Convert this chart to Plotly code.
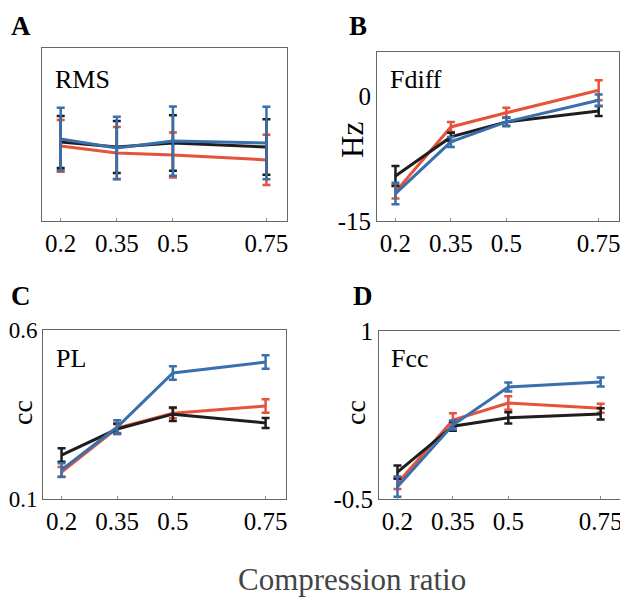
import plotly.graph_objects as go

# page is drawn with an 8px body margin, so the figure is a bit smaller
# and all pixel positions below are in window coordinates
OFF = 8
W, H = 628 - OFF, 598 - OFF

ratios = [0.2, 0.35, 0.5, 0.75]
tick_text = ["0.2", "0.35", "0.5", "0.75"]

# panel A - RMS (no y scale shown)
rms_black = [0.457, 0.428, 0.451, 0.428]
rms_red = [0.434, 0.393, 0.382, 0.353]
rms_blue = [0.474, 0.422, 0.462, 0.451]
rms_black_err = [0.15, 0.15, 0.16, 0.16]
rms_red_err = [0.15, 0.15, 0.13, 0.145]
rms_blue_err = [0.18, 0.18, 0.20, 0.21]

# panel B - Fdiff (Hz)
fd_black = [-9.6, -4.9, -3.1, -1.8]
fd_red = [-11.5, -3.7, -2.0, 0.7]
fd_blue = [-11.7, -5.5, -3.1, -0.5]
fd_black_err = [1.2, 0.5, 0.5, 0.6]
fd_red_err = [0.8, 0.6, 0.6, 1.2]
fd_blue_err = [1.3, 0.6, 0.5, 0.7]

# panel C - PL (cc)
pl_black = [0.23, 0.307, 0.351, 0.325]
pl_red = [0.18, 0.31, 0.354, 0.375]
pl_blue = [0.186, 0.313, 0.473, 0.505]
pl_black_err = [0.02, 0.015, 0.02, 0.015]
pl_red_err = [0.015, 0.015, 0.015, 0.02]
pl_blue_err = [0.02, 0.02, 0.02, 0.02]

# panel D - Fcc (cc)
fcc_black = [-0.26, 0.15, 0.225, 0.26]
fcc_red = [-0.36, 0.205, 0.357, 0.31]
fcc_blue = [-0.39, 0.16, 0.50, 0.545]
fcc_black_err = [0.06, 0.04, 0.05, 0.05]
fcc_red_err = [0.05, 0.06, 0.06, 0.04]
fcc_blue_err = [0.09, 0.04, 0.04, 0.04]

BLACK = "#1e1e1e"
RED = "#e5533a"
BLUE = "#3a6fae"
FONT = "Liberation Serif, Times New Roman, serif"


def px(x):
    return (x - OFF) / W


def py(y):
    return 1 - (y - OFF) / H


# plot boxes in pixels: (left, right, top, bottom)
boxes = {
    "A": (42, 287, 48, 221),
    "B": (377, 619, 52, 221),
    "C": (43, 286, 330, 499),
    "D": (379, 621, 331, 499),
}

panels = [
    ("A", [rms_red, rms_black, rms_blue], [rms_red_err, rms_black_err, rms_blue_err], [0, 1], None),
    ("B", [fd_red, fd_black, fd_blue], [fd_red_err, fd_black_err, fd_blue_err], [-15, 5.3], ([-15, 0], ["-15", "0"])),
    ("C", [pl_red, pl_black, pl_blue], [pl_red_err, pl_black_err, pl_blue_err], [0.1, 0.6], ([0.1, 0.6], ["0.1", "0.6"])),
    ("D", [fcc_red, fcc_black, fcc_blue], [fcc_red_err, fcc_black_err, fcc_blue_err], [-0.5, 1], ([-0.5, 1], ["-0.5", "1"])),
]

fig = go.Figure()
layout = {}

for i, (name, series, errs, yr, yt) in enumerate(panels):
    n = "" if i == 0 else str(i + 1)
    l, r, t, b = boxes[name]
    for vals, err, col in zip(series, errs, [RED, BLACK, BLUE]):
        fig.add_trace(go.Scatter(
            x=ratios, y=vals, mode="lines",
            line=dict(color=col, width=3),
            error_y=dict(type="data", array=err, color=col, thickness=2.5, width=4),
            xaxis="x" + n, yaxis="y" + n, showlegend=False,
        ))
    layout["xaxis" + n] = dict(
        domain=[px(l), px(r)], range=[0.15, 0.805], anchor="y" + n,
        tickvals=ratios, ticktext=tick_text, ticks="inside", ticklen=3,
        tickcolor="#888", showgrid=False, zeroline=False, automargin=False,
        showline=True, linecolor="#666", linewidth=1, mirror=True,
        tickfont=dict(family=FONT, size=25, color="black"),
    )
    ydict = dict(
        domain=[py(b), py(t)], range=yr, anchor="x" + n,
        showgrid=False, zeroline=False, automargin=False,
        showline=True, linecolor="#666", linewidth=1, mirror=True,
        tickfont=dict(family=FONT, size=23 if name == "C" else 25, color="black"),
    )
    if yt is None:
        ydict.update(showticklabels=False, ticks="")
    else:
        ydict.update(tickvals=yt[0], ticktext=yt[1], ticks="", ticklabelstandoff=0)
    layout["yaxis" + n] = ydict

annotations = []
# panel letters
for letter, x, y in [("A", 9, 26), ("B", 347, 26), ("C", 9, 296), ("D", 351, 296)]:
    annotations.append(dict(text="<b>%s</b>" % letter, x=px(x), y=py(y), xref="paper", yref="paper",
                            xanchor="left", yanchor="middle", showarrow=False,
                            font=dict(family=FONT, size=27, color="black")))
# inset labels
for txt, x, y in [("RMS", 53, 80), ("Fdiff", 388, 80), ("PL", 54, 358), ("Fcc", 389, 358)]:
    annotations.append(dict(text=txt, x=px(x), y=py(y), xref="paper", yref="paper",
                            xanchor="left", yanchor="middle", showarrow=False,
                            font=dict(family=FONT, size=26, color="black")))
# axis titles
for txt, x, y, size in [("Hz", 352, 140, 31), ("cc", 23, 413, 28), ("cc", 356, 413, 28)]:
    annotations.append(dict(text=txt, x=px(x), y=py(y), xref="paper", yref="paper",
                            xanchor="center", yanchor="middle", showarrow=False, textangle=-90,
                            font=dict(family=FONT, size=size, color="black")))
annotations.append(dict(text="Compression ratio", x=px(352), y=py(579), xref="paper", yref="paper",
                        xanchor="center", yanchor="middle", showarrow=False,
                        font=dict(family=FONT, size=31, color="#444")))

fig.update_layout(
    width=W, height=H,
    margin=dict(l=0, r=0, t=0, b=0),
    paper_bgcolor="white", plot_bgcolor="white",
    annotations=annotations,
    **layout,
)

fig.write_html("out.html")
